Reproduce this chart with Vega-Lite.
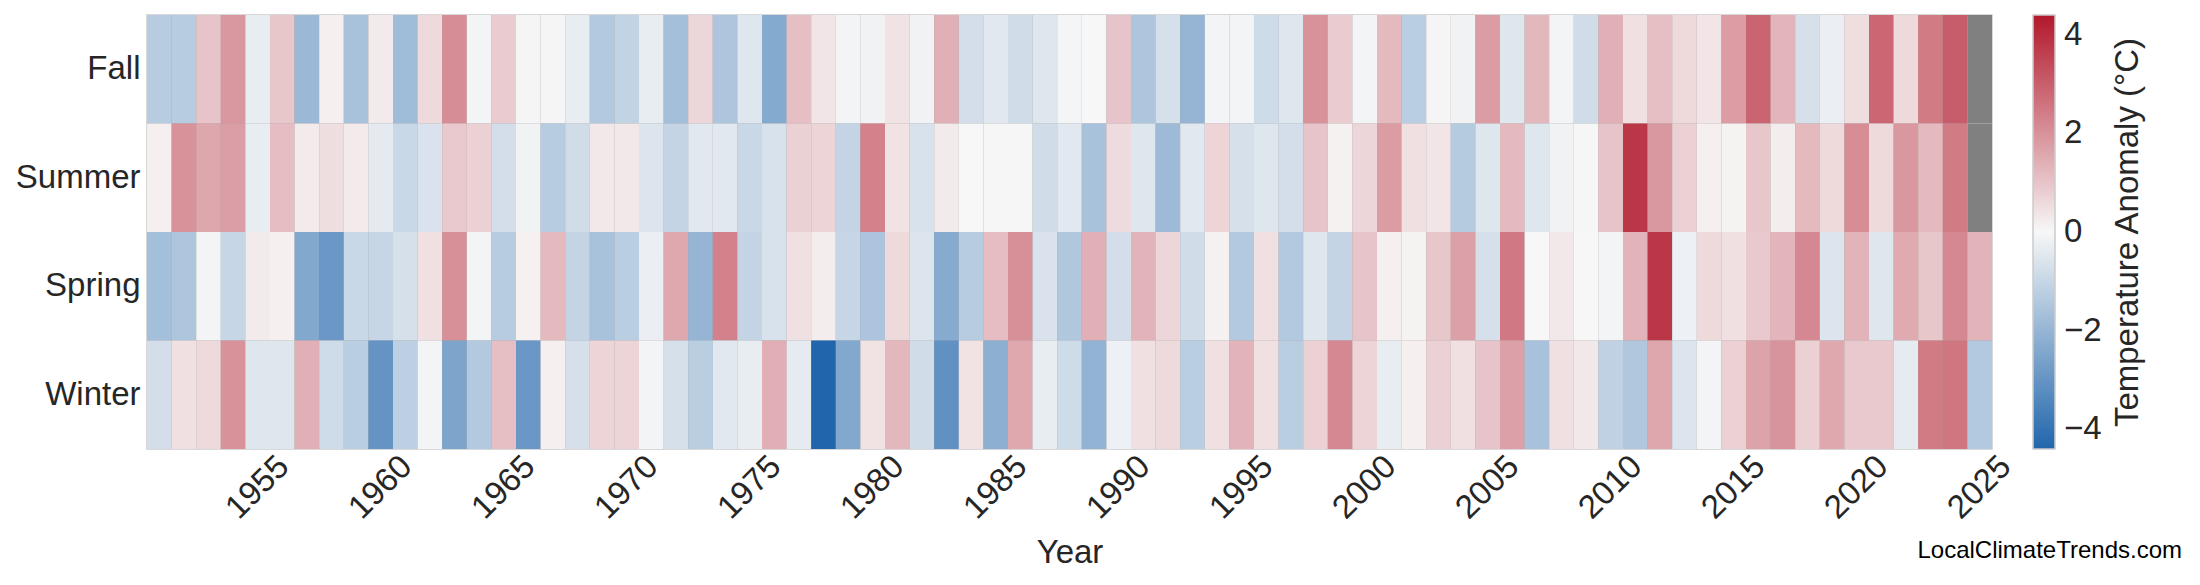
{
  "$schema": "https://vega.github.io/schema/vega-lite/v6.json",
  "width": 1845,
  "height": 434,
  "autosize": {"type": "none"},
  "padding": {"left": 147, "top": 15, "right": 208, "bottom": 136},
  "background": "white",
  "config": {
    "font": "Liberation Sans",
    "view": {"stroke": "#cccccc", "strokeWidth": 1.5}
  },
  "title": {
    "text": "LocalClimateTrends.com",
    "orient": "bottom",
    "anchor": "end",
    "frame": "group",
    "fontSize": 24,
    "fontWeight": "normal",
    "color": "#000000",
    "dx": 190,
    "dy": -35
  },
  "data": {"values": [
    {"year":1951,"season":"Fall","anomaly":-1.3},{"year":1951,"season":"Summer","anomaly":0.15},{"year":1951,"season":"Spring","anomaly":-1.7},{"year":1951,"season":"Winter","anomaly":-0.75},
    {"year":1952,"season":"Fall","anomaly":-1.3},{"year":1952,"season":"Summer","anomaly":2.0},{"year":1952,"season":"Spring","anomaly":-1.5},{"year":1952,"season":"Winter","anomaly":0.45},
    {"year":1953,"season":"Fall","anomaly":1.0},{"year":1953,"season":"Summer","anomaly":1.6},{"year":1953,"season":"Spring","anomaly":-0.1},{"year":1953,"season":"Winter","anomaly":0.6},
    {"year":1954,"season":"Fall","anomaly":1.9},{"year":1954,"season":"Summer","anomaly":1.75},{"year":1954,"season":"Spring","anomaly":-1.0},{"year":1954,"season":"Winter","anomaly":2.0},
    {"year":1955,"season":"Fall","anomaly":-0.3},{"year":1955,"season":"Summer","anomaly":-0.3},{"year":1955,"season":"Spring","anomaly":0.25},{"year":1955,"season":"Winter","anomaly":-0.5},
    {"year":1956,"season":"Fall","anomaly":0.95},{"year":1956,"season":"Summer","anomaly":1.15},{"year":1956,"season":"Spring","anomaly":0.15},{"year":1956,"season":"Winter","anomaly":-0.5},
    {"year":1957,"season":"Fall","anomaly":-1.9},{"year":1957,"season":"Summer","anomaly":0.25},{"year":1957,"season":"Spring","anomaly":-2.4},{"year":1957,"season":"Winter","anomaly":1.4},
    {"year":1958,"season":"Fall","anomaly":0.15},{"year":1958,"season":"Summer","anomaly":0.5},{"year":1958,"season":"Spring","anomaly":-2.9},{"year":1958,"season":"Winter","anomaly":-0.85},
    {"year":1959,"season":"Fall","anomaly":-1.6},{"year":1959,"season":"Summer","anomaly":0.25},{"year":1959,"season":"Spring","anomaly":-0.95},{"year":1959,"season":"Winter","anomaly":-1.25},
    {"year":1960,"season":"Fall","anomaly":0.25},{"year":1960,"season":"Summer","anomaly":-0.4},{"year":1960,"season":"Spring","anomaly":-1.0},{"year":1960,"season":"Winter","anomaly":-3.0},
    {"year":1961,"season":"Fall","anomaly":-1.8},{"year":1961,"season":"Summer","anomaly":-0.95},{"year":1961,"season":"Spring","anomaly":-0.7},{"year":1961,"season":"Winter","anomaly":-1.2},
    {"year":1962,"season":"Fall","anomaly":0.6},{"year":1962,"season":"Summer","anomaly":-0.6},{"year":1962,"season":"Spring","anomaly":0.45},{"year":1962,"season":"Winter","anomaly":-0.08},
    {"year":1963,"season":"Fall","anomaly":2.1},{"year":1963,"season":"Summer","anomaly":0.9},{"year":1963,"season":"Spring","anomaly":2.05},{"year":1963,"season":"Winter","anomaly":-2.5},
    {"year":1964,"season":"Fall","anomaly":-0.08},{"year":1964,"season":"Summer","anomaly":0.75},{"year":1964,"season":"Spring","anomaly":-0.08},{"year":1964,"season":"Winter","anomaly":-1.4},
    {"year":1965,"season":"Fall","anomaly":0.85},{"year":1965,"season":"Summer","anomaly":-0.75},{"year":1965,"season":"Spring","anomaly":-1.3},{"year":1965,"season":"Winter","anomaly":1.1},
    {"year":1966,"season":"Fall","anomaly":-0.05},{"year":1966,"season":"Summer","anomaly":-0.15},{"year":1966,"season":"Spring","anomaly":0.12},{"year":1966,"season":"Winter","anomaly":-2.9},
    {"year":1967,"season":"Fall","anomaly":-0.05},{"year":1967,"season":"Summer","anomaly":-1.3},{"year":1967,"season":"Spring","anomaly":1.2},{"year":1967,"season":"Winter","anomaly":0.15},
    {"year":1968,"season":"Fall","anomaly":-0.3},{"year":1968,"season":"Summer","anomaly":-0.8},{"year":1968,"season":"Spring","anomaly":-1.05},{"year":1968,"season":"Winter","anomaly":-0.7},
    {"year":1969,"season":"Fall","anomaly":-1.4},{"year":1969,"season":"Summer","anomaly":0.3},{"year":1969,"season":"Spring","anomaly":-1.6},{"year":1969,"season":"Winter","anomaly":0.7},
    {"year":1970,"season":"Fall","anomaly":-1.1},{"year":1970,"season":"Summer","anomaly":0.3},{"year":1970,"season":"Spring","anomaly":-1.25},{"year":1970,"season":"Winter","anomaly":0.7},
    {"year":1971,"season":"Fall","anomaly":-0.3},{"year":1971,"season":"Summer","anomaly":-0.55},{"year":1971,"season":"Spring","anomaly":-0.25},{"year":1971,"season":"Winter","anomaly":-0.08},
    {"year":1972,"season":"Fall","anomaly":-1.7},{"year":1972,"season":"Summer","anomaly":-1.05},{"year":1972,"season":"Spring","anomaly":1.55},{"year":1972,"season":"Winter","anomaly":-0.7},
    {"year":1973,"season":"Fall","anomaly":0.65},{"year":1973,"season":"Summer","anomaly":-0.45},{"year":1973,"season":"Spring","anomaly":-2.0},{"year":1973,"season":"Winter","anomaly":-1.25},
    {"year":1974,"season":"Fall","anomaly":-1.5},{"year":1974,"season":"Summer","anomaly":-0.45},{"year":1974,"season":"Spring","anomaly":2.3},{"year":1974,"season":"Winter","anomaly":-0.45},
    {"year":1975,"season":"Fall","anomaly":-0.5},{"year":1975,"season":"Summer","anomaly":-0.95},{"year":1975,"season":"Spring","anomaly":-1.05},{"year":1975,"season":"Winter","anomaly":-0.3},
    {"year":1976,"season":"Fall","anomaly":-2.35},{"year":1976,"season":"Summer","anomaly":-0.65},{"year":1976,"season":"Spring","anomaly":-0.65},{"year":1976,"season":"Winter","anomaly":1.45},
    {"year":1977,"season":"Fall","anomaly":1.1},{"year":1977,"season":"Summer","anomaly":0.75},{"year":1977,"season":"Spring","anomaly":0.45},{"year":1977,"season":"Winter","anomaly":-0.35},
    {"year":1978,"season":"Fall","anomaly":0.35},{"year":1978,"season":"Summer","anomaly":0.7},{"year":1978,"season":"Spring","anomaly":0.2},{"year":1978,"season":"Winter","anomaly":-4.4},
    {"year":1979,"season":"Fall","anomaly":-0.08},{"year":1979,"season":"Summer","anomaly":-1.05},{"year":1979,"season":"Spring","anomaly":-1.0},{"year":1979,"season":"Winter","anomaly":-2.4},
    {"year":1980,"season":"Fall","anomaly":-0.15},{"year":1980,"season":"Summer","anomaly":2.3},{"year":1980,"season":"Spring","anomaly":-1.55},{"year":1980,"season":"Winter","anomaly":0.4},
    {"year":1981,"season":"Fall","anomaly":0.4},{"year":1981,"season":"Summer","anomaly":0.4},{"year":1981,"season":"Spring","anomaly":0.6},{"year":1981,"season":"Winter","anomaly":1.25},
    {"year":1982,"season":"Fall","anomaly":-0.15},{"year":1982,"season":"Summer","anomaly":-0.65},{"year":1982,"season":"Spring","anomaly":-0.55},{"year":1982,"season":"Winter","anomaly":-0.8},
    {"year":1983,"season":"Fall","anomaly":1.4},{"year":1983,"season":"Summer","anomaly":0.25},{"year":1983,"season":"Spring","anomaly":-2.3},{"year":1983,"season":"Winter","anomaly":-3.1},
    {"year":1984,"season":"Fall","anomaly":-0.75},{"year":1984,"season":"Summer","anomaly":0.0},{"year":1984,"season":"Spring","anomaly":-1.3},{"year":1984,"season":"Winter","anomaly":0.4},
    {"year":1985,"season":"Fall","anomaly":-0.45},{"year":1985,"season":"Summer","anomaly":0.02},{"year":1985,"season":"Spring","anomaly":1.15},{"year":1985,"season":"Winter","anomaly":-2.2},
    {"year":1986,"season":"Fall","anomaly":-0.8},{"year":1986,"season":"Summer","anomaly":-0.02},{"year":1986,"season":"Spring","anomaly":2.05},{"year":1986,"season":"Winter","anomaly":1.55},
    {"year":1987,"season":"Fall","anomaly":-0.5},{"year":1987,"season":"Summer","anomaly":-0.8},{"year":1987,"season":"Spring","anomaly":-0.6},{"year":1987,"season":"Winter","anomaly":-0.3},
    {"year":1988,"season":"Fall","anomaly":-0.07},{"year":1988,"season":"Summer","anomaly":-0.45},{"year":1988,"season":"Spring","anomaly":-1.45},{"year":1988,"season":"Winter","anomaly":-0.85},
    {"year":1989,"season":"Fall","anomaly":0.0},{"year":1989,"season":"Summer","anomaly":-1.6},{"year":1989,"season":"Spring","anomaly":1.4},{"year":1989,"season":"Winter","anomaly":-2.05},
    {"year":1990,"season":"Fall","anomaly":1.0},{"year":1990,"season":"Summer","anomaly":0.55},{"year":1990,"season":"Spring","anomaly":-0.75},{"year":1990,"season":"Winter","anomaly":-0.2},
    {"year":1991,"season":"Fall","anomaly":-1.5},{"year":1991,"season":"Summer","anomaly":-0.5},{"year":1991,"season":"Spring","anomaly":1.35},{"year":1991,"season":"Winter","anomaly":0.45},
    {"year":1992,"season":"Fall","anomaly":-0.7},{"year":1992,"season":"Summer","anomaly":-1.85},{"year":1992,"season":"Spring","anomaly":0.65},{"year":1992,"season":"Winter","anomaly":0.6},
    {"year":1993,"season":"Fall","anomaly":-2.0},{"year":1993,"season":"Summer","anomaly":-0.45},{"year":1993,"season":"Spring","anomaly":-0.8},{"year":1993,"season":"Winter","anomaly":-1.25},
    {"year":1994,"season":"Fall","anomaly":-0.08},{"year":1994,"season":"Summer","anomaly":0.7},{"year":1994,"season":"Spring","anomaly":0.12},{"year":1994,"season":"Winter","anomaly":0.45},
    {"year":1995,"season":"Fall","anomaly":-0.08},{"year":1995,"season":"Summer","anomaly":-0.7},{"year":1995,"season":"Spring","anomaly":-1.4},{"year":1995,"season":"Winter","anomaly":1.35},
    {"year":1996,"season":"Fall","anomaly":-0.85},{"year":1996,"season":"Summer","anomaly":-0.5},{"year":1996,"season":"Spring","anomaly":0.45},{"year":1996,"season":"Winter","anomaly":0.45},
    {"year":1997,"season":"Fall","anomaly":-0.5},{"year":1997,"season":"Summer","anomaly":-0.75},{"year":1997,"season":"Spring","anomaly":-1.4},{"year":1997,"season":"Winter","anomaly":-1.25},
    {"year":1998,"season":"Fall","anomaly":2.0},{"year":1998,"season":"Summer","anomaly":1.0},{"year":1998,"season":"Spring","anomaly":-0.5},{"year":1998,"season":"Winter","anomaly":0.75},
    {"year":1999,"season":"Fall","anomaly":0.85},{"year":1999,"season":"Summer","anomaly":0.12},{"year":1999,"season":"Spring","anomaly":-1.05},{"year":1999,"season":"Winter","anomaly":2.2},
    {"year":2000,"season":"Fall","anomaly":-0.08},{"year":2000,"season":"Summer","anomaly":0.65},{"year":2000,"season":"Spring","anomaly":1.0},{"year":2000,"season":"Winter","anomaly":0.7},
    {"year":2001,"season":"Fall","anomaly":1.2},{"year":2001,"season":"Summer","anomaly":1.8},{"year":2001,"season":"Spring","anomaly":0.15},{"year":2001,"season":"Winter","anomaly":-0.3},
    {"year":2002,"season":"Fall","anomaly":-1.25},{"year":2002,"season":"Summer","anomaly":0.45},{"year":2002,"season":"Spring","anomaly":0.1},{"year":2002,"season":"Winter","anomaly":0.15},
    {"year":2003,"season":"Fall","anomaly":-0.05},{"year":2003,"season":"Summer","anomaly":0.35},{"year":2003,"season":"Spring","anomaly":0.95},{"year":2003,"season":"Winter","anomaly":0.75},
    {"year":2004,"season":"Fall","anomaly":-0.15},{"year":2004,"season":"Summer","anomaly":-1.35},{"year":2004,"season":"Spring","anomaly":1.7},{"year":2004,"season":"Winter","anomaly":0.45},
    {"year":2005,"season":"Fall","anomaly":1.8},{"year":2005,"season":"Summer","anomaly":-0.5},{"year":2005,"season":"Spring","anomaly":-0.7},{"year":2005,"season":"Winter","anomaly":1.0},
    {"year":2006,"season":"Fall","anomaly":-0.5},{"year":2006,"season":"Summer","anomaly":1.2},{"year":2006,"season":"Spring","anomaly":2.5},{"year":2006,"season":"Winter","anomaly":1.7},
    {"year":2007,"season":"Fall","anomaly":1.25},{"year":2007,"season":"Summer","anomaly":-0.5},{"year":2007,"season":"Spring","anomaly":0.0},{"year":2007,"season":"Winter","anomaly":-1.6},
    {"year":2008,"season":"Fall","anomaly":-0.1},{"year":2008,"season":"Summer","anomaly":-0.15},{"year":2008,"season":"Spring","anomaly":0.3},{"year":2008,"season":"Winter","anomaly":0.45},
    {"year":2009,"season":"Fall","anomaly":-0.8},{"year":2009,"season":"Summer","anomaly":0.02},{"year":2009,"season":"Spring","anomaly":0.0},{"year":2009,"season":"Winter","anomaly":0.3},
    {"year":2010,"season":"Fall","anomaly":1.4},{"year":2010,"season":"Summer","anomaly":1.0},{"year":2010,"season":"Spring","anomaly":-0.08},{"year":2010,"season":"Winter","anomaly":-1.15},
    {"year":2011,"season":"Fall","anomaly":0.45},{"year":2011,"season":"Summer","anomaly":3.8},{"year":2011,"season":"Spring","anomaly":1.35},{"year":2011,"season":"Winter","anomaly":-1.45},
    {"year":2012,"season":"Fall","anomaly":1.1},{"year":2012,"season":"Summer","anomaly":1.9},{"year":2012,"season":"Spring","anomaly":3.8},{"year":2012,"season":"Winter","anomaly":1.6},
    {"year":2013,"season":"Fall","anomaly":0.6},{"year":2013,"season":"Summer","anomaly":0.75},{"year":2013,"season":"Spring","anomaly":-0.2},{"year":2013,"season":"Winter","anomaly":-0.55},
    {"year":2014,"season":"Fall","anomaly":0.35},{"year":2014,"season":"Summer","anomaly":0.15},{"year":2014,"season":"Spring","anomaly":0.6},{"year":2014,"season":"Winter","anomaly":-0.08},
    {"year":2015,"season":"Fall","anomaly":1.8},{"year":2015,"season":"Summer","anomaly":0.1},{"year":2015,"season":"Spring","anomaly":0.45},{"year":2015,"season":"Winter","anomaly":0.75},
    {"year":2016,"season":"Fall","anomaly":2.9},{"year":2016,"season":"Summer","anomaly":0.95},{"year":2016,"season":"Spring","anomaly":0.9},{"year":2016,"season":"Winter","anomaly":1.65},
    {"year":2017,"season":"Fall","anomaly":1.3},{"year":2017,"season":"Summer","anomaly":0.2},{"year":2017,"season":"Spring","anomaly":1.3},{"year":2017,"season":"Winter","anomaly":1.95},
    {"year":2018,"season":"Fall","anomaly":-0.7},{"year":2018,"season":"Summer","anomaly":1.2},{"year":2018,"season":"Spring","anomaly":2.2},{"year":2018,"season":"Winter","anomaly":0.75},
    {"year":2019,"season":"Fall","anomaly":-0.25},{"year":2019,"season":"Summer","anomaly":0.6},{"year":2019,"season":"Spring","anomaly":-0.55},{"year":2019,"season":"Winter","anomaly":1.55},
    {"year":2020,"season":"Fall","anomaly":0.5},{"year":2020,"season":"Summer","anomaly":2.1},{"year":2020,"season":"Spring","anomaly":1.35},{"year":2020,"season":"Winter","anomaly":0.9},
    {"year":2021,"season":"Fall","anomaly":2.85},{"year":2021,"season":"Summer","anomaly":0.6},{"year":2021,"season":"Spring","anomaly":-0.5},{"year":2021,"season":"Winter","anomaly":0.9},
    {"year":2022,"season":"Fall","anomaly":0.6},{"year":2022,"season":"Summer","anomaly":1.9},{"year":2022,"season":"Spring","anomaly":1.5},{"year":2022,"season":"Winter","anomaly":-0.35},
    {"year":2023,"season":"Fall","anomaly":2.45},{"year":2023,"season":"Summer","anomaly":1.2},{"year":2023,"season":"Spring","anomaly":0.95},{"year":2023,"season":"Winter","anomaly":2.45},
    {"year":2024,"season":"Fall","anomaly":3.05},{"year":2024,"season":"Summer","anomaly":2.45},{"year":2024,"season":"Spring","anomaly":2.2},{"year":2024,"season":"Winter","anomaly":2.55},
    {"year":2025,"season":"Fall","anomaly":null},{"year":2025,"season":"Summer","anomaly":null},{"year":2025,"season":"Spring","anomaly":1.35},{"year":2025,"season":"Winter","anomaly":-1.4}
  ]},
  "encoding": {
    "x": {
      "field": "year",
      "type": "ordinal",
      "scale": {"paddingInner": 0, "paddingOuter": 0},
      "axis": {
        "values": [1955, 1960, 1965, 1970, 1975, 1980, 1985, 1990, 1995, 2000, 2005, 2010, 2015, 2020, 2025],
        "title": "Year",
        "labelAngle": -45,
        "labelAlign": "center",
        "labelBaseline": "middle",
        "labelPadding": 38,
        "labelFontSize": 33,
        "labelColor": "#262626",
        "labelOverlap": false,
        "ticks": false,
        "tickSize": 0,
        "domain": false,
        "grid": false,
        "titleFontSize": 33,
        "titleFontWeight": "normal",
        "titleColor": "#262626",
        "titlePadding": 12
      }
    }
  },
  "layer": [
    {
      "mark": {"type": "rect"},
      "encoding": {
        "y": {
          "field": "season",
          "type": "nominal",
          "sort": ["Fall", "Summer", "Spring", "Winter"],
          "scale": {"paddingInner": 0, "paddingOuter": 0},
          "axis": {
            "orient": "left",
            "title": null,
            "ticks": false,
            "tickSize": 0,
            "domain": false,
            "grid": false,
            "labelFontSize": 33,
            "labelColor": "#262626",
            "labelPadding": 7
          }
        },
        "color": {"value": "#808080"}
      }
    },
    {
      "transform": [{"filter": "datum.anomaly != null"}],
      "mark": {"type": "rect"},
      "encoding": {
        "y": {
          "field": "season",
          "type": "nominal",
          "sort": ["Fall", "Summer", "Spring", "Winter"],
          "scale": {"paddingInner": 0, "paddingOuter": 0},
          "axis": {
            "orient": "right",
            "title": "Temperature Anomaly (°C)",
            "titleAngle": -90,
            "titleAlign": "center",
            "titleBaseline": "middle",
            "titleFontSize": 33,
            "titleFontWeight": "normal",
            "titleColor": "#262626",
            "titlePadding": 135,
            "labels": false,
            "ticks": false,
            "tickSize": 0,
            "domain": false,
            "grid": false
          }
        },
        "color": {
          "field": "anomaly",
          "type": "quantitative",
          "scale": {
            "domain": [-4.4, 0, 4.4],
            "range": ["#2166ac", "#f7f7f7", "#b2182b"],
            "interpolate": "rgb"
          },
          "legend": {
            "title": null,
            "orient": "right",
            "offset": -111,
            "padding": 0,
            "direction": "vertical",
            "gradientLength": 434,
            "gradientThickness": 22,
            "gradientStrokeColor": "#cccccc",
            "gradientStrokeWidth": 1.5,
            "values": [-4, -2, 0, 2, 4],
            "format": "d",
            "labelFontSize": 33,
            "labelColor": "#262626",
            "labelOffset": 9,
            "labelOverlap": false
          }
        }
      }
    }
  ],
  "resolve": {"scale": {"y": "independent"}, "axis": {"y": "independent"}}
}
